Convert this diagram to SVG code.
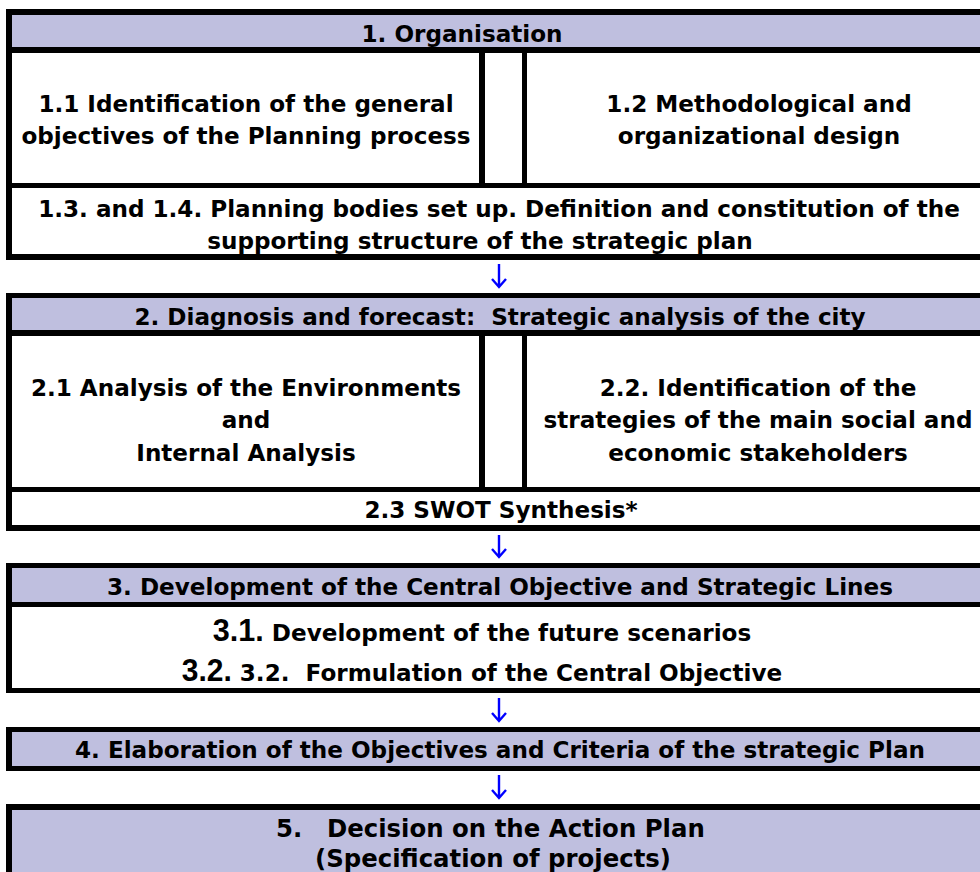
<svg xmlns="http://www.w3.org/2000/svg" width="980" height="872" viewBox="0 0 980 872">
<style>
.frame{fill:#000}
.hdr{fill:#BFBFDF}
.cell{fill:#fff}
.t{font-family:"DejaVu Sans","Open Sans",sans-serif;font-weight:bold;font-size:23.1px;fill:#000;text-anchor:middle}
.t5{font-size:24.4px}
.big{font-family:"Liberation Sans Narrow","Liberation Sans",sans-serif;font-size:31px;font-weight:bold}
.arrow{stroke:#0000FF;stroke-width:2.4;fill:none}
</style>
<rect width="980" height="872" fill="#fff"/>
<g id="block1">
<rect class="frame" x="6" y="9" width="980" height="251"/>
<g id="n1"><rect class="hdr" x="12" y="15" width="970" height="32"/><text class="t" x="462" y="42">1. Organisation</text></g>
<g id="n1_1"><rect class="cell" x="12" y="53" width="467" height="130"/><text class="t" x="246" y="112">1.1 Identification of the general</text><text class="t" x="246" y="144">objectives of the Planning process</text></g>
<g id="n1_gap"><rect class="cell" x="485" y="53" width="37" height="130"/></g>
<g id="n1_2"><rect class="cell" x="527" y="53" width="460" height="130"/><text class="t" x="759" y="112">1.2 Methodological and</text><text class="t" x="759" y="144">organizational design</text></g>
<g id="n1_3"><rect class="cell" x="12" y="188" width="970" height="66"/><text class="t" x="499" y="217">1.3. and 1.4. Planning bodies set up. Definition and constitution of the</text><text class="t" x="480" y="249">supporting structure of the strategic plan</text></g>
</g>
<g id="block2">
<rect class="frame" x="6" y="293" width="980" height="238"/>
<g id="n2"><rect class="hdr" x="12" y="298" width="970" height="32"/><text class="t" x="500" y="325" xml:space="preserve">2. Diagnosis and forecast:  Strategic analysis of the city</text></g>
<g id="n2_1"><rect class="cell" x="12" y="336" width="467" height="151"/><text class="t" x="246" y="396">2.1 Analysis of the Environments</text><text class="t" x="246" y="428">and</text><text class="t" x="246" y="461">Internal Analysis</text></g>
<g id="n2_gap"><rect class="cell" x="485" y="336" width="37" height="151"/></g>
<g id="n2_2"><rect class="cell" x="527" y="336" width="460" height="151"/><text class="t" x="758" y="396">2.2. Identification of the</text><text class="t" x="758" y="428">strategies of the main social and</text><text class="t" x="758" y="461">economic stakeholders</text></g>
<g id="n2_3"><rect class="cell" x="12" y="492" width="970" height="33"/><text class="t" x="501" y="518">2.3 SWOT Synthesis*</text></g>
</g>
<g id="block3">
<rect class="frame" x="6" y="563" width="980" height="130"/>
<g id="n3"><rect class="hdr" x="12" y="568" width="970" height="34"/><text class="t" x="500" y="595">3. Development of the Central Objective and Strategic Lines</text></g>
<g id="n3_1"><rect class="cell" x="12" y="607" width="970" height="81"/>
<text class="t" x="482" y="641"><tspan class="big" textLength="51" lengthAdjust="spacingAndGlyphs">3.1.</tspan> Development of the future scenarios</text>
<text class="t" x="482" y="681" xml:space="preserve"><tspan class="big" textLength="50" lengthAdjust="spacingAndGlyphs">3.2.</tspan> 3.2.  Formulation of the Central Objective</text></g>
</g>
<g id="block4">
<rect class="frame" x="6" y="727" width="980" height="44"/>
<g id="n4"><rect class="hdr" x="12" y="732" width="970" height="34"/><text class="t" x="500" y="758">4. Elaboration of the Objectives and Criteria of the strategic Plan</text></g>
</g>
<g id="block5">
<rect class="frame" x="6" y="804" width="980" height="80"/>
<g id="n5"><rect class="hdr" x="12" y="810" width="970" height="70"/><text class="t t5" y="837" xml:space="preserve" style="text-anchor:start"><tspan x="276">5.  </tspan><tspan x="327">Decision on the Action Plan</tspan></text><text class="t t5" x="493" y="867">(Specification of projects)</text></g>
</g>
<g id="connectors">
<path class="arrow" d="M499 264V287M492 279L499 287L506 279"/>
<path class="arrow" d="M499 535V557M492 549L499 557L506 549"/>
<path class="arrow" d="M499 698V721M492 713L499 721L506 713"/>
<path class="arrow" d="M499 775V798M492 790L499 798L506 790"/>
</g>
</svg>
